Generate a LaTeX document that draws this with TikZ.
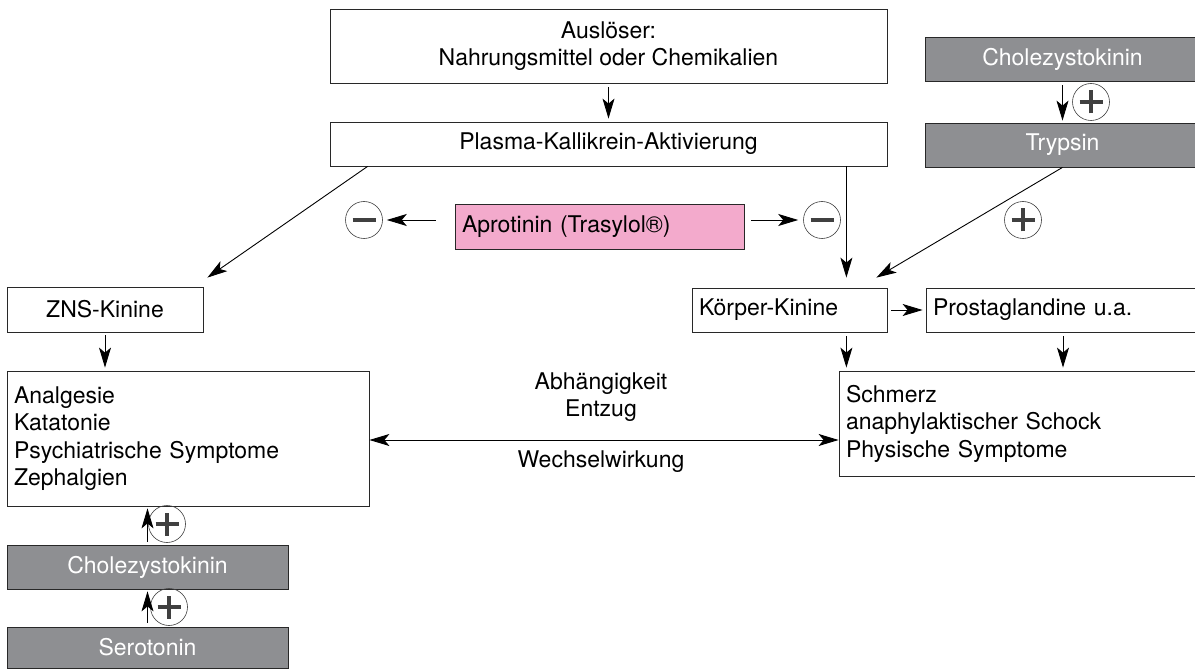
\documentclass[tikz,border=0pt]{standalone}
\usepackage{fontspec}
\setmainfont{TeX Gyre Heros}
\usetikzlibrary{arrows.meta,calc}

\definecolor{boxgray}{RGB}{142,143,146}
\definecolor{apink}{RGB}{243,170,204}
\definecolor{edge}{RGB}{40,40,40}

\tikzset{
  txt/.style={font=\fontsize{23}{27.5}\selectfont},
  box/.style={txt, draw=edge, line width=0.8pt, inner sep=0pt, align=center},
  lbox/.style={txt, draw=edge, line width=0.8pt, inner xsep=7pt, inner ysep=0pt, align=left},
  graybox/.style={box, fill=boxgray, text=white},
  arr/.style={draw=black, line width=0.9pt, -{Stealth[length=20pt,width=12pt,inset=5pt]}},
  dblarr/.style={draw=black, line width=0.9pt, {Stealth[length=20pt,width=12pt,inset=5pt]}-{Stealth[length=20pt,width=12pt,inset=5pt]}},
  sign/.style={circle, draw=black!75, line width=0.6pt, minimum size=37pt, inner sep=0pt},
  plussign/.style={sign, path picture={
    \draw[line width=3.4pt] ([xshift=-11.5pt]path picture bounding box.center) -- ([xshift=11.5pt]path picture bounding box.center)
      ([yshift=-11.5pt]path picture bounding box.center) -- ([yshift=11.5pt]path picture bounding box.center);}},
  minussign/.style={sign, path picture={
    \draw[line width=3.4pt] ([xshift=-11.5pt]path picture bounding box.center) -- ([xshift=11.5pt]path picture bounding box.center);}},
}

\begin{document}
\begin{tikzpicture}[x=1pt, y=-1pt]
  \clip (0,0) rectangle (1195,671);
  \fill[white] (0,0) rectangle (1195,671);

  % upper chain
  \node[box, minimum width=557pt, minimum height=74pt] (ausl) at (608.5,46) {Auslöser:\\Nahrungsmittel oder Chemikalien};
  \node[box, minimum width=557pt, minimum height=44pt] (plasma) at (608.5,144) {Plasma-Kallikrein-Aktivierung};
  \node[graybox, minimum width=275pt, minimum height=44pt] (cck1) at (1062.5,59) {Cholezystokinin};
  \node[graybox, minimum width=275pt, minimum height=44pt] (tryp) at (1062.5,145) {Trypsin};

  % inhibitor
  \node[lbox, fill=apink, text width=275pt, minimum height=45pt] (aprot) at (599.5,226.5) {Aprotinin (Trasylol®)};
  \node[minussign] (mL) at (364,220) {};
  \node[minussign] (mR) at (822,220) {};

  % kinins
  \node[box, minimum width=196pt, minimum height=45pt] (zns) at (105,309.5) {ZNS-Kinine};
  \node[lbox, text width=181pt, minimum height=44pt] (koer) at (789.5,310) {Körper-Kinine};
  \node[lbox, text width=260pt, minimum height=44pt] (prost) at (1063,310) {Prostaglandine u.a.};

  % effects
  \node[lbox, text width=348pt, minimum height=135pt] (anal) at (188,438.5) {Analgesie\\Katatonie\\Psychiatrische Symptome\\Zephalgien};
  \node[lbox, text width=347pt, minimum height=105pt] (schm) at (1019.5,423.5) {Schmerz\\anaphylaktischer Schock\\Physische Symptome};
  \node[txt, align=center] (dep) at (601,397) {Abhängigkeit\\Entzug};
  \node[txt] (ww) at (601,462) {Wechselwirkung};

  % bottom chain
  \node[graybox, minimum width=281pt, minimum height=44pt] (cck2) at (147.5,567) {Cholezystokinin};
  \node[graybox, minimum width=281pt, minimum height=41pt] (sero) at (147.5,647.5) {Serotonin};

  % plus signs
  \node[plussign] (pT) at (1091,102) {};
  \node[plussign] (pK) at (1023,220) {};
  \node[plussign] (pA) at (167,524) {};
  \node[plussign] (pC) at (169,607) {};

  % helper points
  \coordinate (pk) at ([xshift=-41pt]plasma.south east);
  \coordinate (zt) at ([shift={(4pt,9pt)}]zns.north east);
  \coordinate (kt) at ([shift={(-11pt,10pt)}]koer.north east);

  % connectors
  \draw[arr, shorten <=4pt, shorten >=3pt] (ausl.south) -- (plasma.north);
  \draw[arr, shorten <=4pt, shorten >=2pt] (cck1.south) -- (tryp.north);
  \draw[arr] ([xshift=38pt]plasma.south west) -- (zt);
  \draw[arr, shorten >=10pt] (pk) -- (pk |- koer.north);
  \draw[arr] (tryp.south) -- (kt);
  \draw[arr, shorten <=19pt, shorten >=4pt] (aprot.west |- mL) -- (mL.east);
  \draw[arr, shorten <=7pt, shorten >=5pt] (aprot.east |- mR) -- (mR.west);
  \draw[arr, shorten <=4pt, shorten >=3pt] (koer.east) -- (prost.west);
  \draw[arr, shorten <=4pt, shorten >=3pt] (pk |- koer.south) -- (pk |- schm.north);
  \draw[arr, shorten <=4pt, shorten >=3pt] (prost.south) -- (prost.south |- schm.north);
  \draw[arr, shorten <=3pt, shorten >=3pt] (zns.south) -- (zns.south |- anal.north);
  \draw[dblarr] ([yshift=-1.5pt]anal.east) -- ([yshift=-1.5pt]anal.east -| schm.west);
  \draw[arr, shorten <=3pt, shorten >=2pt] (cck2.north) -- (cck2.north |- anal.south);
  \draw[arr, shorten <=4pt, shorten >=2pt] (sero.north) -- (sero.north |- cck2.south);
\end{tikzpicture}
\end{document}
